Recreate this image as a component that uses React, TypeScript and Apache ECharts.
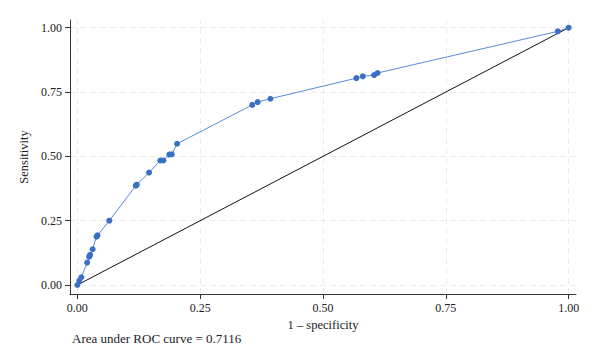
import React, { useEffect, useRef } from "react";
import * as echarts from "echarts";

const fprValues = [0, 0.004, 0.008, 0.02, 0.024, 0.026, 0.031, 0.039, 0.041, 0.065, 0.119, 0.121, 0.146, 0.169, 0.175, 0.187, 0.192, 0.203, 0.356, 0.367, 0.393, 0.568, 0.581, 0.604, 0.611, 0.978, 1];
const tprValues = [0, 0.016, 0.03, 0.087, 0.11, 0.117, 0.139, 0.188, 0.193, 0.25, 0.386, 0.39, 0.437, 0.484, 0.484, 0.507, 0.508, 0.549, 0.7, 0.711, 0.724, 0.804, 0.811, 0.816, 0.824, 0.986, 1];
const tickValues = [0, 0.25, 0.5, 0.75, 1];
const referenceLine = [[0, 0], [1, 1]];
const aucText = "Area under ROC curve = 0.7116";

const FONT = "Liberation Serif";

export default function App() {
  const ref = useRef<HTMLDivElement>(null);
  useEffect(() => {
    document.body.style.margin = "0";
    if (!ref.current) return;
    const chart = echarts.init(ref.current, undefined, { renderer: "svg" });
    const gridStyle = { color: "#ebebeb", type: [6, 4] as any, width: 1 };
    const axisCommon = {
      type: "value" as const,
      splitLine: { show: false },
      axisLine: { show: true, onZero: false, lineStyle: { color: "#333", width: 1 } },
      axisTick: { show: true, customValues: tickValues, length: 5, lineStyle: { color: "#333" } },
      axisLabel: {
        customValues: tickValues,
        formatter: (v: number) => v.toFixed(2),
        color: "#222",
        fontFamily: FONT,
        fontSize: 12,
      },
      nameTextStyle: { fontFamily: FONT, fontSize: 12.5, color: "#222" },
    };
    chart.setOption({
      animation: false,
      backgroundColor: "#fff",
      grid: { left: 70, right: 24, top: 20, bottom: 70, containLabel: false },
      xAxis: {
        ...axisCommon,
        min: -0.015,
        max: 1.015,
        name: "1 – specificity",
        nameLocation: "middle",
        nameGap: 21,
        axisLabel: { ...axisCommon.axisLabel, margin: 8 },
      },
      yAxis: {
        ...axisCommon,
        min: -0.035,
        max: 1.03,
        name: "Sensitivity",
        nameLocation: "middle",
        nameGap: 35,
        nameRotate: 90,
        axisLabel: { ...axisCommon.axisLabel, margin: 8 },
      },
      graphic: [
        {
          type: "text",
          left: 72,
          top: 332,
          style: { text: aucText, fontFamily: FONT, fontSize: 13, fill: "#222" },
        },
      ],
      series: [
        {
          type: "line",
          data: [],
          silent: true,
          z: 0,
          markLine: {
            silent: true,
            z: 0,
            symbol: "none",
            label: { show: false },
            lineStyle: gridStyle,
            data: [
              ...tickValues.map((v) => ({ xAxis: v })),
              ...tickValues.map((v) => ({ yAxis: v })),
            ],
          },
        },
        {
          type: "line",
          data: referenceLine,
          symbol: "none",
          silent: true,
          lineStyle: { color: "#111", width: 1 },
          z: 2,
        },
        {
          type: "line",
          data: fprValues.map((x, i) => [x, tprValues[i]]),
          symbol: "circle",
          symbolSize: 6,
          showAllSymbol: true,
          clip: false,
          silent: true,
          itemStyle: { color: "#3a6fc4", borderWidth: 0 },
          lineStyle: { color: "#5a8ad8", width: 1 },
          z: 3,
        },
      ],
    });
    return () => chart.dispose();
  }, []);
  return <div ref={ref} style={{ width: 600, height: 364 }} />;
}
